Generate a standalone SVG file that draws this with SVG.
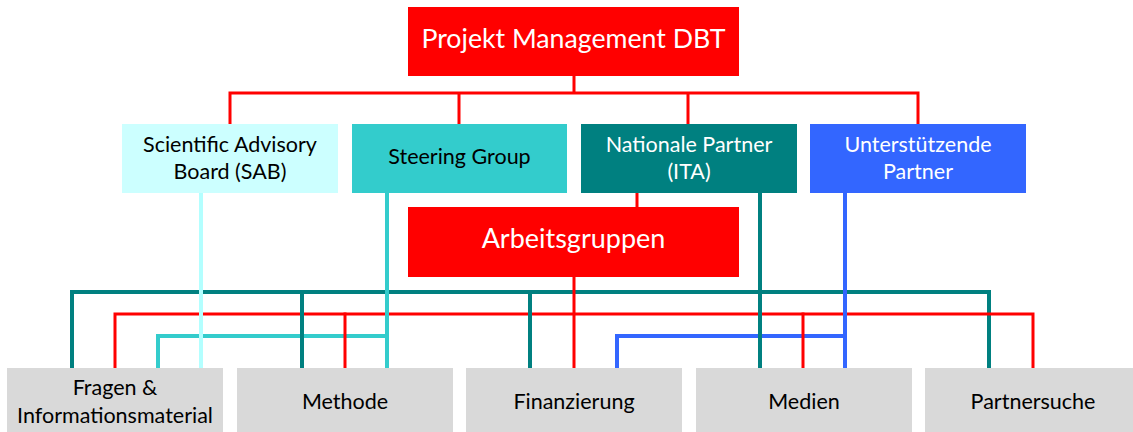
<svg xmlns="http://www.w3.org/2000/svg" width="1133" height="432" viewBox="0 0 1133 432">
<style>
text{font-family:Lato,"Liberation Sans",sans-serif;text-anchor:middle}
.w{fill:#fff}.b{fill:#000}
.m{font-size:21.5px}
.l{fill:none;stroke-linejoin:miter;stroke-linecap:square}
.red{stroke:#ff0000;stroke-width:3}
.teal{stroke:#008080;stroke-width:4}
.cyan{stroke:#33cccc;stroke-width:4}
.lcyan{stroke:#b3ffff;stroke-width:4}
.blue{stroke:#3366ff;stroke-width:4}
.grey{fill:#d9d9d9}
</style>
<rect width="1133" height="432" fill="#fff"/>
<g id="connectors">
<path class="l red" d="M574,76V93M230,124V93H918V124M459,93V124M688,93V124M637,193V207"/>
<path class="l teal" d="M72,368V292H989V368"/>
<path class="l red" d="M115,368V314H1033V368"/>
<path class="l cyan" d="M158,368V336H387"/>
<path class="l blue" d="M617,368V336H845"/>
<path class="l red" d="M574,277V368M345,314V368M803,314V368"/>
<path class="l teal" d="M302,292V368M530,292V368M760,193V368"/>
<path class="l lcyan" d="M201,193V368"/>
<path class="l cyan" d="M387,193V368"/>
<path class="l blue" d="M845,193V368"/>
</g>
<g id="pm">
<rect x="408" y="7" width="331" height="69" fill="#ff0000"/>
<text class="w" x="573.5" y="48" font-size="26.7">Projekt Management DBT</text>
</g>
<g id="sab">
<rect x="122" y="124" width="216" height="69" fill="#ccffff"/>
<text class="b m" x="230" y="152">Scientific Advisory</text>
<text class="b m" x="230" y="179">Board (SAB)</text>
</g>
<g id="steering">
<rect x="352" y="124" width="215" height="69" fill="#33cccc"/>
<text class="b m" x="459.5" y="164">Steering Group</text>
</g>
<g id="nationale">
<rect x="581" y="124" width="216" height="69" fill="#008080"/>
<text class="w m" x="689" y="152">Nationale Partner</text>
<text class="w m" x="689" y="179">(ITA)</text>
</g>
<g id="unterstuetzende">
<rect x="810" y="124" width="216" height="69" fill="#3366ff"/>
<text class="w m" x="918" y="152">Unterstützende</text>
<text class="w m" x="918" y="179">Partner</text>
</g>
<g id="arbeitsgruppen">
<rect x="408" y="207" width="331" height="70" fill="#ff0000"/>
<text class="w" x="573.5" y="248" font-size="27">Arbeitsgruppen</text>
</g>
<g id="fragen">
<rect class="grey" x="7" y="368" width="216" height="69"/>
<text class="b m" x="115" y="395">Fragen &amp;</text>
<text class="b m" x="115" y="423">Informationsmaterial</text>
</g>
<g id="methode">
<rect class="grey" x="237" y="368" width="216" height="69"/>
<text class="b m" x="345" y="409">Methode</text>
</g>
<g id="finanzierung">
<rect class="grey" x="466" y="368" width="216" height="69"/>
<text class="b m" x="574" y="409">Finanzierung</text>
</g>
<g id="medien">
<rect class="grey" x="696" y="368" width="216" height="69"/>
<text class="b m" x="804" y="409">Medien</text>
</g>
<g id="partnersuche">
<rect class="grey" x="925" y="368" width="216" height="69"/>
<text class="b m" x="1033" y="409">Partnersuche</text>
</g>
</svg>
